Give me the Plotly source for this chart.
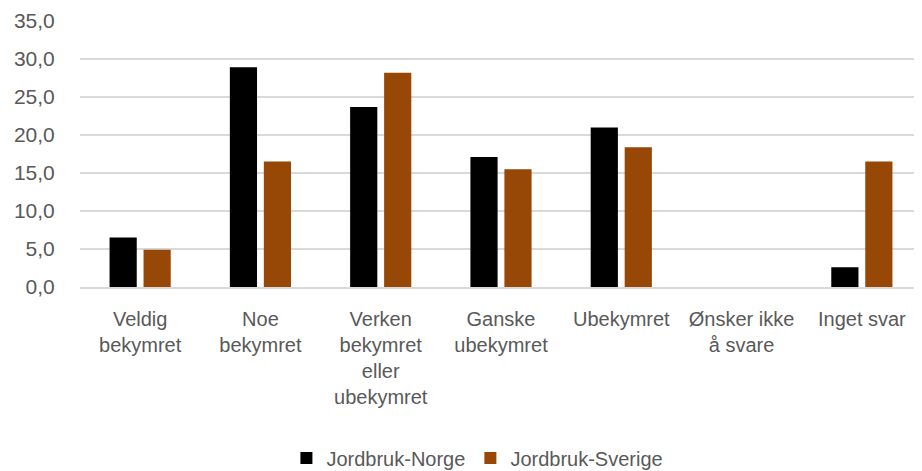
import plotly.graph_objects as go

categories = ["Veldig<br>bekymret", "Noe<br>bekymret", "Verken<br>bekymret<br>eller<br>ubekymret",
              "Ganske<br>ubekymret", "Ubekymret", "Ønsker ikke<br>å svare", "Inget svar"]
norge = [6.5, 28.9, 23.7, 17.1, 21.0, 0.0, 2.6]
sverige = [4.9, 16.5, 28.2, 15.5, 18.4, 0.0, 16.5]
y_ticks = [0, 5, 10, 15, 20, 25, 30, 35]

FONT = "Liberation Sans, Arial, sans-serif"
GRAY = "#595959"

fig = go.Figure()
fig.add_trace(go.Bar(name="Jordbruk-Norge", x=categories, y=norge,
                     marker=dict(color="#000000", line=dict(width=0))))
fig.add_trace(go.Bar(name="Jordbruk-Sverige", x=categories, y=sverige,
                     marker=dict(color="#974706", line=dict(width=0))))

# The page body has an 8px margin; the figure is sized to fill the rest of the window.
fig.update_layout(
    width=914, height=463,
    margin=dict(l=72, r=0, t=13, b=184, autoexpand=False),
    paper_bgcolor="white", plot_bgcolor="white",
    barmode="group", bargap=0.435, bargroupgap=0.2,
    separators=",.",
    font=dict(family=FONT, size=20, color=GRAY),
    showlegend=True,
    legend=dict(orientation="h", x=0.472, xanchor="center", y=-0.643, yanchor="middle",
                font=dict(family=FONT, size=20, color=GRAY), itemwidth=30,
                traceorder="normal"),
    hovermode=False,
)
fig.update_yaxes(range=[0, 35], tickvals=y_ticks, tickformat=".1f",
                 showgrid=True, gridcolor="#d9d9d9", gridwidth=1.5,
                 zeroline=False, showline=False, automargin=False,
                 ticks="outside", ticklen=20, tickcolor="rgba(0,0,0,0)",
                 tickfont=dict(family=FONT, size=21, color=GRAY), fixedrange=True)
fig.update_xaxes(showgrid=False, showline=True, linecolor="#d9d9d9", linewidth=1.5,
                 ticks="outside", ticklen=13, tickcolor="rgba(0,0,0,0)",
                 tickangle=0, automargin=False,
                 tickfont=dict(family=FONT, size=20, color=GRAY), fixedrange=True)

fig.write_html("out.html")
